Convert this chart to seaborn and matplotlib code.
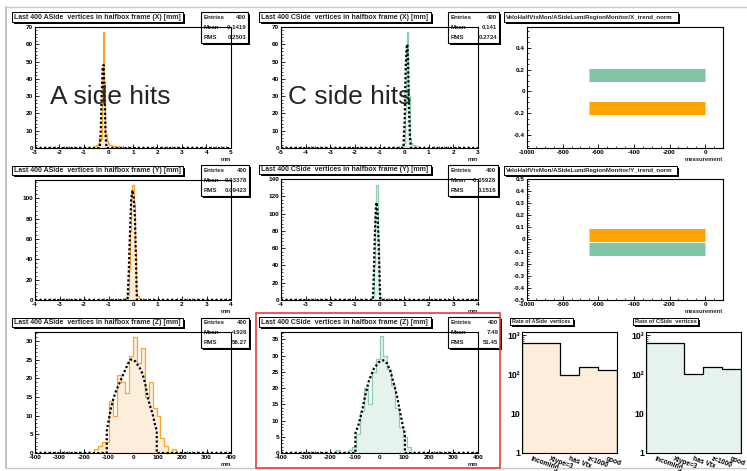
import numpy as np
import matplotlib
matplotlib.use("Agg")
import matplotlib.pyplot as plt
import seaborn as sns
from matplotlib.patches import Rectangle
from matplotlib.lines import Line2D
from matplotlib.ticker import MultipleLocator, FixedLocator, FuncFormatter, NullFormatter, LogLocator

# ------------------------------------------------------------------ data
# A side X [mm]
a_x_centres = [-0.6, -0.55, -0.5, -0.45, -0.4, -0.35, -0.3, -0.25, -0.2, -0.15, -0.1,
               -0.05, 0.0, 0.05, 0.1, 0.15, 0.2, 0.25, 0.3, 0.35, 0.4]
a_x_counts = [1, 1, 2, 2, 3, 6, 5, 40, 67, 38, 8, 4, 3, 2, 2, 1, 1, 1, 1, 0, 1]
a_x_fit_x = [-3, -0.36, -0.32, -0.28, -0.24, -0.2, -0.16, -0.12, -0.08, 5]
a_x_fit_y = [0, 0, 8, 30, 46, 48, 30, 8, 0, 0]

# C side X [mm]
c_x_centres = [-0.1, -0.05, 0.0, 0.05, 0.1, 0.15, 0.2, 0.25, 0.3, 0.35, 0.4, 0.45, 0.5]
c_x_counts = [1, 1, 3, 20, 55, 67, 30, 6, 3, 2, 2, 1, 1]
c_x_fit_x = [-5, -0.03, 0.02, 0.06, 0.1, 0.13, 0.16, 0.2, 0.24, 0.28, 3]
c_x_fit_y = [0, 0, 15, 45, 58, 60, 50, 22, 5, 0, 0]

# A side Y [mm]
a_y_centres = [-0.35, -0.3, -0.25, -0.2, -0.15, -0.1, -0.05, 0.0, 0.05, 0.1, 0.15, 0.2, 0.25]
a_y_counts = [1, 2, 3, 5, 30, 68, 105, 113, 95, 50, 8, 4, 2]
a_y_fit_x = [-4, -0.22, -0.17, -0.12, -0.07, -0.02, 0.03, 0.08, 0.13, 0.16, 4]
a_y_fit_y = [0, 0, 30, 70, 100, 108, 100, 80, 30, 0, 0]

# C side Y [mm]
c_y_centres = [-0.35, -0.3, -0.25, -0.2, -0.15, -0.1, -0.05, 0.0, 0.05, 0.1]
c_y_counts = [1, 2, 5, 40, 100, 133, 70, 8, 3, 1]
c_y_fit_x = [-4, -0.27, -0.23, -0.19, -0.15, -0.12, -0.08, -0.04, 0.0, 0.03, 4]
c_y_fit_y = [0, 0, 30, 75, 105, 113, 100, 70, 30, 0, 0]

# A side Z [mm]
a_z_centres = [-152, -136, -120, -104, -88, -72, -56, -40, -24, -8, 8, 24, 40, 56, 72,
               88, 104, 120, 136, 152, 168]
a_z_counts = [1, 2, 3, 3, 14, 10, 21, 19, 16, 26, 31, 24, 28, 15, 19, 12, 10, 4, 2, 0, 1]
a_z_fit_x = [-400, -107, -107, -100, -90, -80, -70, -60, -50, -40, -30, -20, -10, 0, 10,
             20, 30, 40, 50, 60, 70, 80, 90, 97, 97, 400]
a_z_fit_y = [0, 0, 6, 8.5, 12, 14.5, 16.5, 18, 19.5, 21, 22.5, 24, 25, 25, 24.5, 23.5,
             22.5, 21, 18.5, 15, 12.5, 10.5, 7.5, 6, 0, 0]

# C side Z [mm]
c_z_centres = [-168, -152, -136, -120, -104, -88, -72, -56, -40, -24, -8, 8, 24, 40, 56,
               72, 88, 104, 120, 136]
c_z_counts = [1, 0, 0, 1, 2, 6, 13, 20, 15, 25, 29, 36, 30, 26, 21, 14, 8, 5, 2, 0]
c_z_fit_x = [-400, -98, -98, -84, -71, -57, -44, -23, -3, 15, 31, 45, 58, 72, 85, 96,
             103, 103, 400]
c_z_fit_y = [0, 0, 6, 9, 13, 18, 22, 26, 28, 28.6, 27.6, 25, 21.4, 17.3, 12, 8, 6, 0, 0]

# trend monitors (measurement index vs normalised position)
trend_meas = [-650, 0]
x_trend_a = [-0.15, -0.15]
x_trend_c = [0.15, 0.15]
y_trend_a = [0.035, 0.035]
y_trend_c = [-0.08, -0.08]

# vertex rates
rate_labels = ["Incoming", "Xtype=3", "has Vtx", "z<1000", "good"]
rate_a = [650, 650, 100, 160, 130]
rate_c = [650, 650, 105, 160, 135]

# stats boxes
stats = {
    "ax": ("400", "-0.1419", "0.2503"),
    "cx": ("400", "0.141", "0.2724"),
    "ay": ("400", "0.03378", "0.09423"),
    "cy": ("400", "-0.05928", "0.1516"),
    "az": ("400", "4.926", "58.27"),
    "cz": ("400", "7.49", "51.45"),
}

# ------------------------------------------------------------------ style
sns.set_theme(style="white")
plt.rcParams["font.family"] = ["Liberation Sans", "DejaVu Sans"]

ORANGE_LINE = "#f9a62a"
ORANGE_FILL = "#fdeedb"
GREEN_LINE = "#8ccfae"
GREEN_FILL = "#e5f3ec"
BAND_ORANGE = "#ffa305"
BAND_GREEN = "#82c4a6"

W, H = 747, 471
fig = plt.figure(figsize=(W / 100, H / 100), dpi=100)
fig.patch.set_facecolor("white")
renderer = fig.canvas.get_renderer()


def fmt(v, p=None):
    s = "%g" % (round(v, 6) + 0.0)
    return "0" if s == "-0" else s


def px_ax(x0, y0, x1, y1):
    ax = fig.add_axes([x0 / W, 1 - y1 / H, (x1 - x0) / W, (y1 - y0) / H])
    ax.set_facecolor("none")
    for s in ax.spines.values():
        s.set_visible(True)
        s.set_color("black")
        s.set_linewidth(0.8)
    ax.grid(False)
    ax.tick_params(which="both", direction="in", top=False, right=False,
                   bottom=True, left=True, colors="black", labelsize=4.6, pad=1.5)
    ax.tick_params(which="major", length=3.2, width=0.6)
    ax.tick_params(which="minor", length=1.6, width=0.5)
    return ax


def fig_rect(x0, y0, x1, y1, **kw):
    r = Rectangle((x0 / W, 1 - y1 / H), (x1 - x0) / W, (y1 - y0) / H,
                  transform=fig.transFigure, **kw)
    fig.add_artist(r)
    return r


def title_box(x0, y0, x1, y1, text):
    fig_rect(x0 + 1.8, y0 + 1.8, x1 + 1.8, y1 + 1.8, facecolor="black", edgecolor="none", zorder=4)
    fig_rect(x0, y0, x1, y1, facecolor="white", edgecolor="black", linewidth=0.7, zorder=5)
    t = fig.text((x0 + 1.8) / W, 1 - ((y0 + y1) / 2 + 0.3) / H, text, ha="left", va="center",
                 fontsize=5, fontweight="bold", zorder=6)
    w = t.get_window_extent(renderer).width
    t.set_fontsize(5 * (x1 - x0 - 3.6) / w)


def stats_box(x0, y0, x1, y1, vals):
    fig_rect(x0 + 2, y0 + 2, x1 + 2, y1 + 2, facecolor="black", edgecolor="none", zorder=-3)
    fig_rect(x0, y0, x1, y1, facecolor="white", edgecolor="black", linewidth=0.8, zorder=-2)
    h = (y1 - y0) / 3
    for i, (k, v) in enumerate(zip(["Entries", "Mean", "RMS"], vals)):
        yc = y0 + h * (i + 0.5)
        fig.text((x0 + 2.2) / W, 1 - yc / H, k, ha="left", va="center", fontsize=4.4,
                 fontweight="bold", zorder=-1)
        fig.text((x1 - 1.6) / W, 1 - yc / H, v, ha="right", va="center", fontsize=4.4,
                 fontweight="bold", zorder=-1)


def hist_panel(ax, centres, counts, width, fit_x, fit_y, line, fill):
    c = np.asarray(centres, float)
    edges = [float(e) for e in np.append(c - width / 2, c[-1] + width / 2)]
    sns.histplot(x=c, weights=counts, bins=edges, element="step", fill=True,
                 facecolor=fill, edgecolor=line, linewidth=0.9, alpha=1, ax=ax)
    sns.lineplot(x=fit_x, y=fit_y, ax=ax, color="black", linewidth=1.6,
                 linestyle=(0, (1, 1)), sort=False, estimator=None, errorbar=None)
    ax.set_ylabel("")
    ax.set_xlabel("mm", loc="right", fontsize=4.2, fontweight="bold", labelpad=1.5)


def finish_ticks(ax, xmaj, xmin, ymaj, ymin):
    ax.xaxis.set_major_locator(MultipleLocator(xmaj))
    ax.xaxis.set_minor_locator(MultipleLocator(xmin))
    ax.yaxis.set_major_locator(MultipleLocator(ymaj))
    ax.yaxis.set_minor_locator(MultipleLocator(ymin))
    ax.xaxis.set_major_formatter(FuncFormatter(fmt))
    ax.yaxis.set_major_formatter(FuncFormatter(fmt))
    for lab in ax.get_xticklabels() + ax.get_yticklabels():
        lab.set_fontweight("bold")


# ------------------------------------------------------------------ row 1 / 2 / 3 histograms
panels = [
    ((35, 27, 231, 148), a_x_centres, a_x_counts, 0.05, a_x_fit_x, a_x_fit_y, ORANGE_LINE, ORANGE_FILL,
     (-3, 5), (0, 70), (1, 0.2, 10, 2), "ax", (201, 12, 248, 43), (12, 12, 183, 22),
     "Last 400 ASide  vertices in halfbox frame (X) [mm]"),
    ((281, 27, 478, 148), c_x_centres, c_x_counts, 0.05, c_x_fit_x, c_x_fit_y, GREEN_LINE, GREEN_FILL,
     (-5, 3), (0, 70), (1, 0.2, 10, 2), "cx", (448, 12, 499, 43), (259, 12, 431, 22),
     "Last 400 CSide  vertices in halfbox frame (X) [mm]"),
    ((35, 180, 231, 300), a_y_centres, a_y_counts, 0.05, a_y_fit_x, a_y_fit_y, ORANGE_LINE, ORANGE_FILL,
     (-4, 4), (0, 118), (1, 0.2, 20, 4), "ay", (201, 165, 249, 196), (12, 166, 183, 175),
     "Last 400 ASide  vertices in halfbox frame (Y) [mm]"),
    ((281, 179, 478, 300), c_y_centres, c_y_counts, 0.05, c_y_fit_x, c_y_fit_y, GREEN_LINE, GREEN_FILL,
     (-4, 4), (0, 140), (1, 0.2, 20, 4), "cy", (448, 165, 498, 196), (259, 165, 431, 174),
     "Last 400 CSide  vertices in halfbox frame (Y) [mm]"),
    ((35, 332, 231, 453), a_z_centres, a_z_counts, 16, a_z_fit_x, a_z_fit_y, ORANGE_LINE, ORANGE_FILL,
     (-400, 400), (0, 32.4), (100, 20, 5, 1), "az", (201, 318, 249, 348), (12, 318, 183, 327),
     "Last 400 ASide  vertices in halfbox frame (Z) [mm]"),
    ((281, 332, 478, 453), c_z_centres, c_z_counts, 16, c_z_fit_x, c_z_fit_y, GREEN_LINE, GREEN_FILL,
     (-400, 400), (0, 37.3), (100, 20, 5, 1), "cz", (448, 317, 500, 348), (259, 317, 431, 327),
     "Last 400 CSide  vertices in halfbox frame (Z) [mm]"),
]

for (box, cen, cnt, wid, fx, fy, lc, fc, xl, yl, tk, key, sbox, tbox, title) in panels:
    ax = px_ax(*box)
    hist_panel(ax, cen, cnt, wid, fx, fy, lc, fc)
    ax.set_xlim(*xl)
    ax.set_ylim(*yl)
    finish_ticks(ax, *tk)
    stats_box(*sbox, stats[key])
    title_box(*tbox, title)

# ------------------------------------------------------------------ trend monitors
for box, ya, yc, yl, ymaj, ymin, tbox, title in [
    ((527, 27, 723, 148), x_trend_a, x_trend_c, (-0.516, 0.589), 0.2, 0.05, (504, 12, 678, 22),
     "VeloHalfVtxMon/ASideLumiRegionMonitor/X_trend_norm"),
    ((527, 179, 723, 300), y_trend_a, y_trend_c, (-0.5, 0.5), 0.1, 0.02, (504, 166, 677, 175),
     "VeloHalfVtxMon/ASideLumiRegionMonitor/Y_trend_norm"),
]:
    ax = px_ax(*box)
    sns.lineplot(x=trend_meas, y=yc, ax=ax, color=BAND_GREEN, linewidth=9.4,
                 solid_capstyle="butt", estimator=None, errorbar=None)
    sns.lineplot(x=trend_meas, y=ya, ax=ax, color=BAND_ORANGE, linewidth=9.4,
                 solid_capstyle="butt", estimator=None, errorbar=None)
    ax.set_xlim(-1000, 100)
    ax.set_ylim(*yl)
    finish_ticks(ax, 200, 50, ymaj, ymin)
    ax.set_ylabel("")
    ax.set_xlabel("measurement", loc="right", fontsize=4.2, fontweight="bold", labelpad=1.5)
    title_box(*tbox, title)

# ------------------------------------------------------------------ rate panels
for box, counts, fc, tbox, title in [
    ((522, 332, 617, 453), rate_a, ORANGE_FILL, (510, 318, 573, 325), "Rate of ASide  vertices"),
    ((646, 332, 741, 453), rate_c, GREEN_FILL, (633, 318, 698, 325), "Rate of CSide  vertices"),
]:
    ax = px_ax(*box)
    pos = np.arange(len(rate_labels))
    sns.histplot(x=pos, weights=counts, bins=[i - 0.5 for i in range(len(rate_labels) + 1)],
                 element="step", fill=True, facecolor=fc, edgecolor="black",
                 linewidth=0.9, alpha=1, ax=ax)
    ax.set_yscale("log")
    ax.set_ylim(1, 1216)
    ax.set_xlim(-0.5, len(rate_labels) - 0.5)
    ax.set_ylabel("")
    ax.yaxis.set_major_locator(FixedLocator([1, 10, 100, 1000]))
    ax.set_yticklabels(["1", "10", "10²", "10³"], fontsize=6.3, fontweight="bold")
    ax.yaxis.set_minor_locator(LogLocator(base=10, subs=np.arange(2, 10)))
    ax.yaxis.set_minor_formatter(NullFormatter())
    ax.set_xticks(pos)
    ax.set_xticklabels(rate_labels, rotation=-20, ha="left", rotation_mode="anchor",
                       fontsize=4.8, fontweight="bold")
    ax.tick_params(axis="x", which="major", pad=2)
    title_box(*tbox, title)

# ------------------------------------------------------------------ annotations / frames
fig.text(50 / W, 1 - 104 / H, "A side hits", fontsize=19, va="baseline", ha="left", zorder=7)
fig.text(288 / W, 1 - 104 / H, "C side hits", fontsize=19, va="baseline", ha="left", zorder=7)

fig_rect(256, 313, 500, 468, facecolor="none", edgecolor="#e2403a", linewidth=1.2, zorder=8)
fig.add_artist(Line2D([6 / W, 6 / W], [1 - 7 / H, 1 - 468 / H], transform=fig.transFigure,
                      color="#b8b8b8", linewidth=1.2))
fig.add_artist(Line2D([6 / W, 1], [1 - 7 / H, 1 - 7 / H], transform=fig.transFigure,
                      color="#c8c8c8", linewidth=1.0))
fig.add_artist(Line2D([6 / W, 1], [1 - 468 / H, 1 - 468 / H], transform=fig.transFigure,
                      color="#c8c8c8", linewidth=1.0))

fig.savefig("out.png", dpi=100)
